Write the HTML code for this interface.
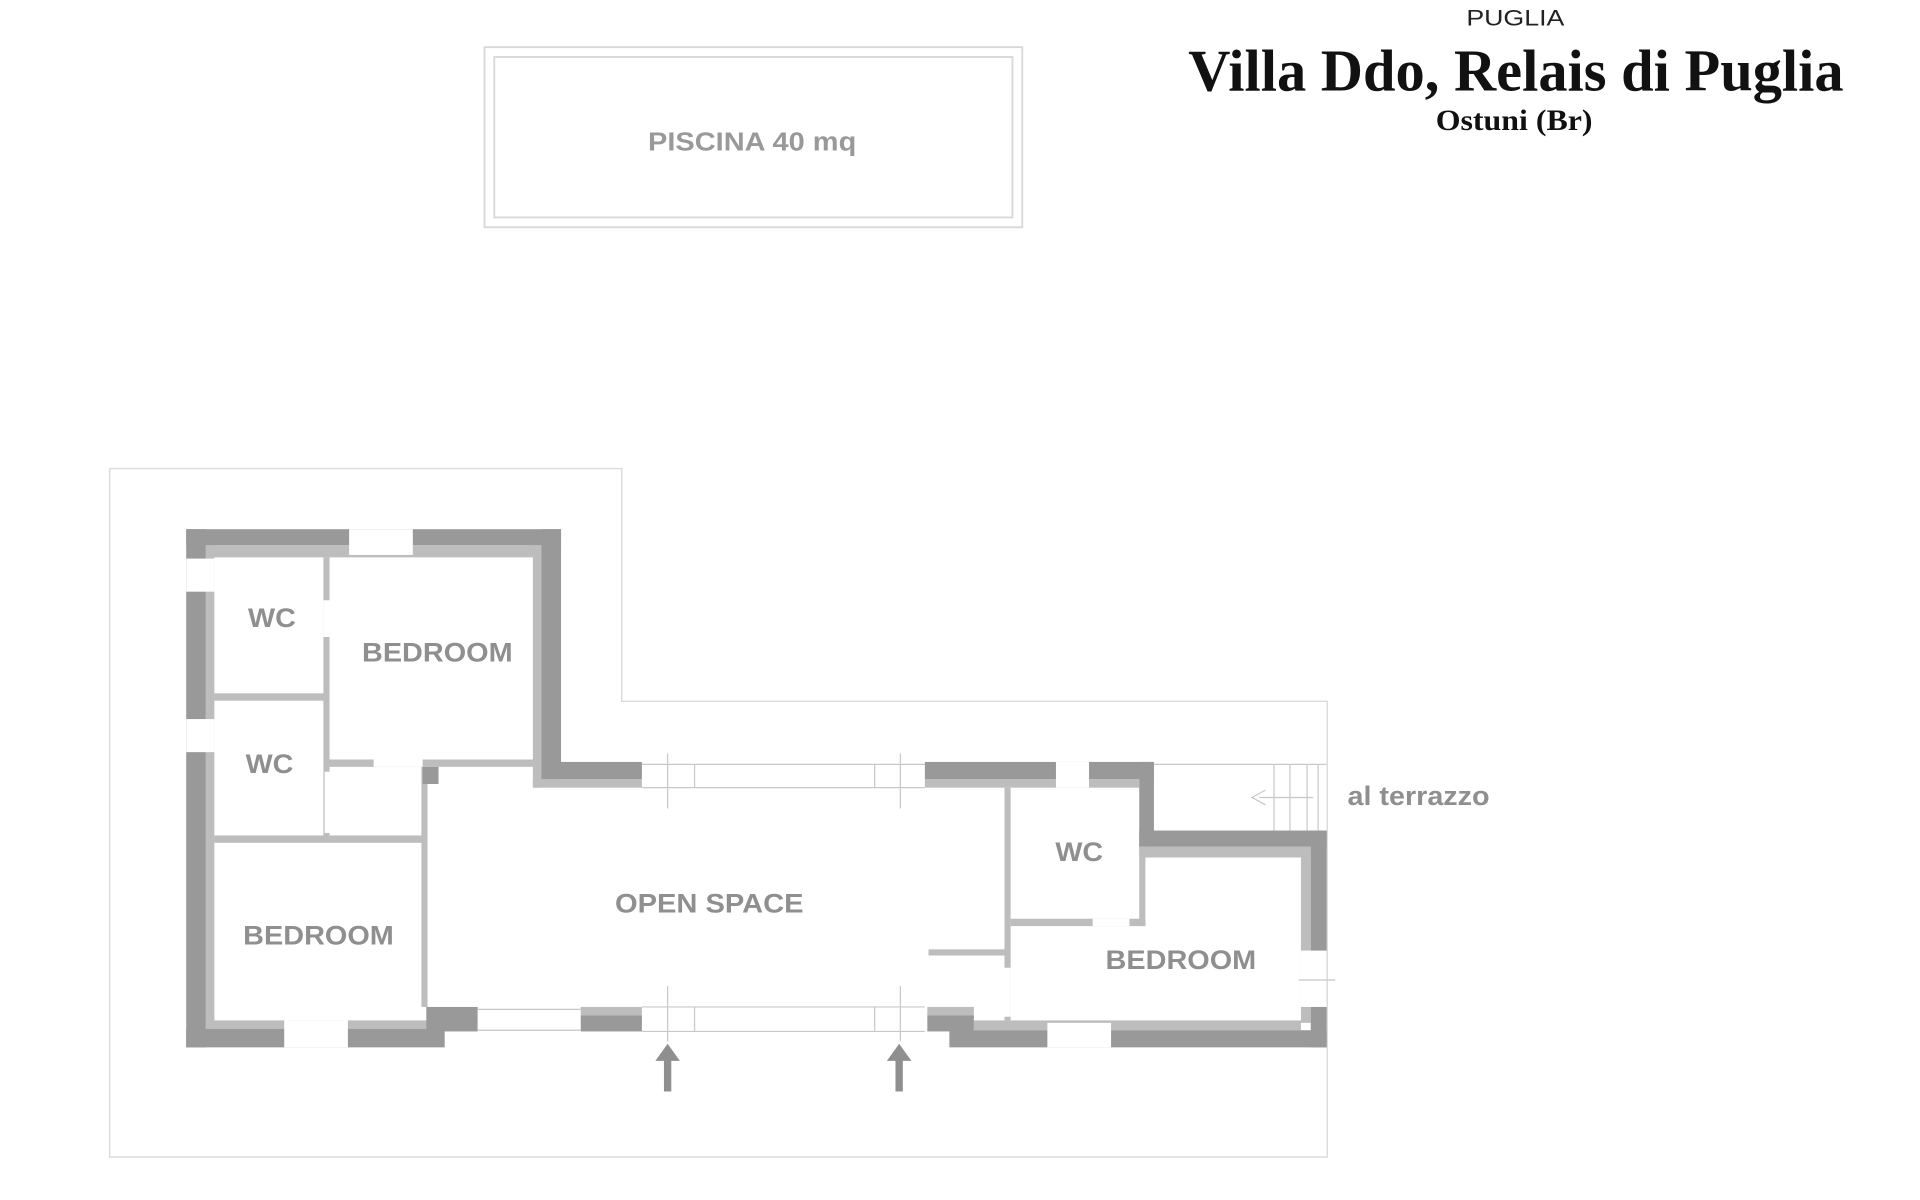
<!DOCTYPE html>
<html><head><meta charset="utf-8"><style>
html,body{margin:0;padding:0;background:#fff;}
svg{display:block;}
</style></head><body>
<svg width="1920" height="1200" viewBox="0 0 1567.35 979.6" preserveAspectRatio="none" xmlns="http://www.w3.org/2000/svg">
<rect width="1567.35" height="979.6" fill="#fff"/>
<!-- header -->
<text x="1237" y="21" text-anchor="middle" font-family="Liberation Sans, sans-serif" font-size="18" fill="#222" textLength="80" lengthAdjust="spacingAndGlyphs">PUGLIA</text>
<text x="970" y="74" font-family="Liberation Serif, serif" font-weight="bold" font-size="48" fill="#111" textLength="535" lengthAdjust="spacingAndGlyphs">Villa Ddo, Relais di Puglia</text>
<text x="1172" y="106" font-family="Liberation Serif, serif" font-weight="bold" font-size="24" fill="#111" textLength="128" lengthAdjust="spacingAndGlyphs">Ostuni (Br)</text>
<!-- pool -->
<rect x="395.5" y="38.5" width="439" height="147" fill="none" stroke="#d8d8d8" stroke-width="1.5"/>
<rect x="403.5" y="46.5" width="423" height="131" fill="none" stroke="#d8d8d8" stroke-width="1.5"/>
<text x="614" y="123" text-anchor="middle" font-family="Liberation Sans, sans-serif" font-weight="bold" font-size="21" fill="#999" textLength="170" lengthAdjust="spacingAndGlyphs">PISCINA 40 mq</text>
<!-- site outline -->
<polyline points="89.5,382.5 507.5,382.5 507.5,572.5 1083.5,572.5 1083.5,944.5 89.5,944.5 89.5,382.5" fill="none" stroke="#dcdcdc" stroke-width="1.2"/>
<g fill="#bdbdbd">
<!-- light inner bands -->
<rect x="168" y="445" width="274" height="10"/>
<rect x="168" y="445" width="7" height="390"/>
<rect x="435" y="445" width="7" height="198"/>
<rect x="435" y="636" width="89" height="7"/>
<rect x="755" y="636" width="175" height="7"/>
<rect x="930" y="690" width="140" height="10"/>
<rect x="1062" y="690" width="8" height="145"/>
<rect x="168" y="833" width="195" height="7"/>
<rect x="795" y="833" width="267" height="8"/>
<rect x="757" y="822" width="38" height="8"/>
<rect x="474" y="822" width="50" height="7"/>
<!-- interior walls -->
<rect x="175" y="566" width="90" height="6"/>
<rect x="264" y="455" width="5" height="230"/>
<rect x="269" y="620" width="167" height="6"/>
<rect x="175" y="682" width="170" height="6"/>
<rect x="344" y="626" width="5" height="196"/>
<rect x="820" y="643" width="5" height="190"/>
<rect x="825" y="750" width="110" height="6"/>
<rect x="930" y="690" width="5" height="66"/>
<rect x="758" y="775" width="64" height="5"/>
</g>
<g fill="#999">
<!-- left wing -->
<rect x="152" y="432" width="16" height="423"/>
<rect x="152" y="432" width="306" height="13"/>
<rect x="442" y="432" width="16" height="204"/>
<rect x="442" y="622" width="82" height="14"/>
<rect x="152" y="840" width="211" height="15"/>
<rect x="348" y="822" width="42" height="20"/>
<rect x="474" y="829" width="50" height="13"/>
<rect x="345" y="626" width="13" height="14"/>
<!-- right -->
<rect x="755" y="622" width="187" height="14"/>
<rect x="930" y="622" width="12" height="69"/>
<rect x="930" y="678" width="153" height="13"/>
<rect x="1070" y="678" width="13" height="177"/>
<rect x="757" y="829" width="38" height="13"/>
<rect x="775" y="841" width="308" height="14"/>
</g>
<g fill="#fff">
<rect x="285" y="432" width="52" height="21"/>
<rect x="152" y="456" width="23" height="27"/>
<rect x="152" y="587" width="23" height="27"/>
<rect x="232" y="833" width="52" height="22"/>
<rect x="390" y="822" width="84" height="20"/>
<rect x="862" y="622" width="27" height="21"/>
<rect x="855" y="835" width="52" height="20"/>
<rect x="1062" y="776" width="21" height="46"/>
<rect x="305" y="620" width="40" height="6"/>
<rect x="265" y="630" width="4" height="50"/>
<rect x="264" y="490" width="5" height="30"/>
<rect x="820" y="790" width="5" height="40"/>
<rect x="892" y="750" width="30" height="6"/>
</g>
<!-- glazing lines -->
<g stroke="#c8c8c8" stroke-width="1" fill="none">
<line x1="524" y1="624" x2="755" y2="624"/><line x1="524" y1="643" x2="755" y2="643"/>
<line x1="524" y1="822" x2="755" y2="822"/><line x1="524" y1="842" x2="755" y2="842"/>
<line x1="567" y1="624" x2="567" y2="643"/><line x1="714" y1="624" x2="714" y2="643"/>
<line x1="567" y1="822" x2="567" y2="842"/><line x1="714" y1="822" x2="714" y2="842"/>
<line x1="545" y1="615" x2="545" y2="660"/><line x1="735" y1="615" x2="735" y2="660"/>
<line x1="545" y1="805" x2="545" y2="850"/><line x1="735" y1="805" x2="735" y2="850"/>
<line x1="390" y1="824" x2="474" y2="824"/><line x1="390" y1="841" x2="474" y2="841"/>
<line x1="942" y1="624" x2="1083" y2="624"/>
<line x1="1040" y1="624" x2="1040" y2="678"/><line x1="1053" y1="624" x2="1053" y2="678"/><line x1="1067" y1="624" x2="1067" y2="678"/><line x1="1076" y1="624" x2="1076" y2="678"/>
<line x1="1028" y1="651" x2="1072" y2="651"/>
<polyline points="1033,645 1022,651 1033,657"/>
<line x1="1060" y1="800" x2="1090" y2="800"/>
</g>
<!-- arrows -->
<g fill="#8f8f8f">
<rect x="542" y="864" width="6" height="27"/><polygon points="545,852 535,866 555,866"/>
<rect x="731" y="864" width="6" height="27"/><polygon points="734,852 724,866 744,866"/>
</g>
<!-- labels -->
<g font-family="Liberation Sans, sans-serif" font-weight="bold" fill="#8f8f8f" font-size="22">
<text x="222" y="512" text-anchor="middle" textLength="39" lengthAdjust="spacingAndGlyphs">WC</text>
<text x="357" y="540" text-anchor="middle" textLength="123" lengthAdjust="spacingAndGlyphs">BEDROOM</text>
<text x="220" y="631" text-anchor="middle" textLength="39" lengthAdjust="spacingAndGlyphs">WC</text>
<text x="260" y="771" text-anchor="middle" textLength="123" lengthAdjust="spacingAndGlyphs">BEDROOM</text>
<text x="579" y="745" text-anchor="middle" textLength="154" lengthAdjust="spacingAndGlyphs">OPEN SPACE</text>
<text x="881" y="703" text-anchor="middle" textLength="39" lengthAdjust="spacingAndGlyphs">WC</text>
<text x="964" y="791" text-anchor="middle" textLength="123" lengthAdjust="spacingAndGlyphs">BEDROOM</text>
<text x="1100" y="657" textLength="116" lengthAdjust="spacingAndGlyphs">al terrazzo</text>
</g>
</svg>
</body></html>
